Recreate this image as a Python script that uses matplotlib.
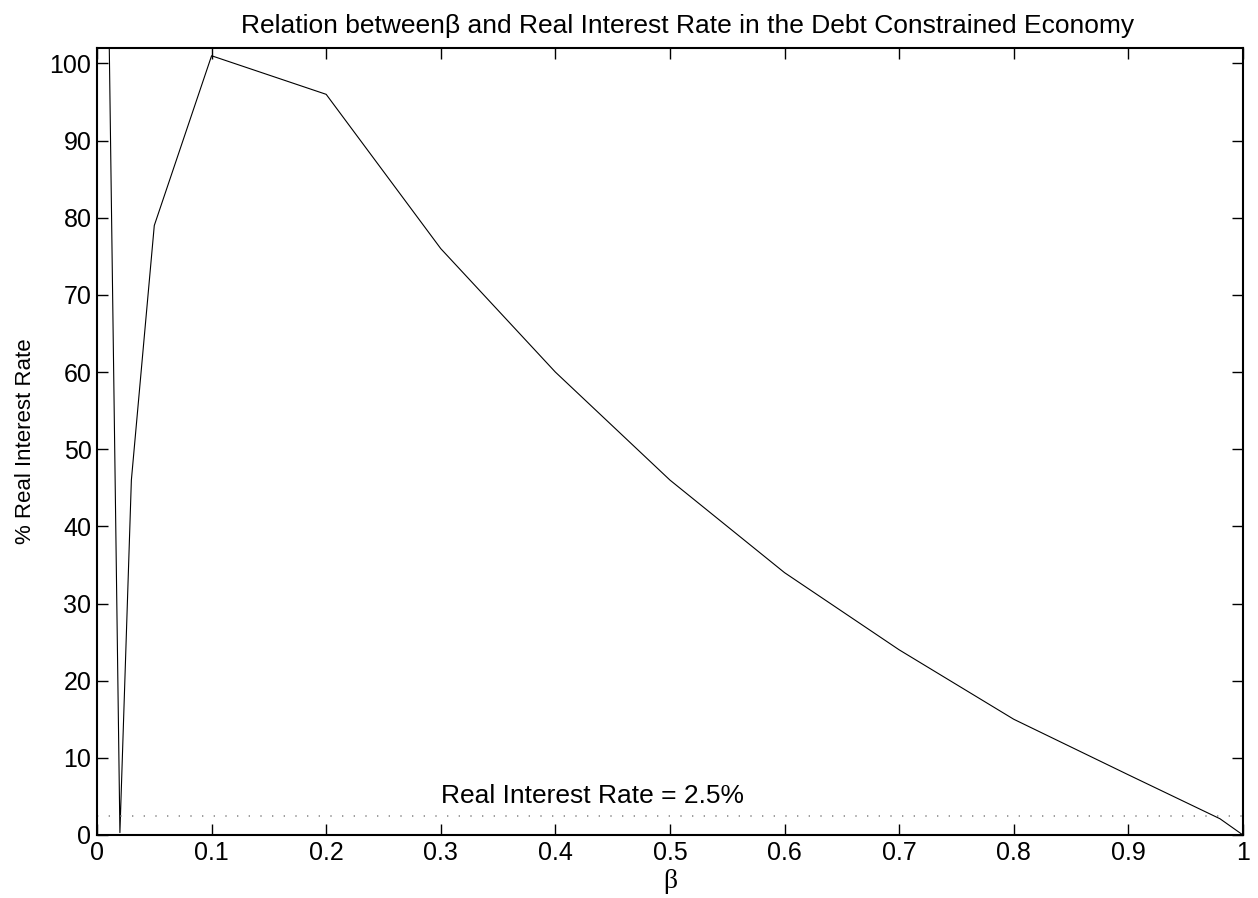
import matplotlib
matplotlib.use('Agg')
import matplotlib.pyplot as plt

# beta values and the real interest rate (%)
beta = [0.01, 0.02, 0.03, 0.05, 0.1, 0.2, 0.3, 0.4, 0.5, 0.6, 0.7, 0.8, 0.9, 0.98, 1.0]
rate = [110, 0.3, 46, 79, 101, 96, 76, 60, 46, 34, 24, 15, 7.8, 2.1, 0]
target_rate = 2.5
xticks = [0, 0.1, 0.2, 0.3, 0.4, 0.5, 0.6, 0.7, 0.8, 0.9, 1]
xticklabels = ['0', '0.1', '0.2', '0.3', '0.4', '0.5', '0.6', '0.7', '0.8', '0.9', '1']
yticks = [0, 10, 20, 30, 40, 50, 60, 70, 80, 90, 100]

plt.rcParams['font.family'] = ['Liberation Sans', 'DejaVu Sans']

fig = plt.figure(figsize=(12.58, 8.98), dpi=100)
ax = fig.add_axes([0.0771, 0.0702, 0.9109, 0.8763])

ax.plot(beta, rate, color='black', lw=0.8)
ax.plot([0, 1], [target_rate, target_rate], color='#8c8c8c', lw=1.2,
        linestyle=(0, (0.8, 6.2)))
ax.text(0.3, 5, 'Real Interest Rate = 2.5%', fontsize=19, va='center', ha='left')

ax.set_xlim(0, 1)
ax.set_ylim(0, 102)
ax.set_xticks(xticks)
ax.set_xticklabels(xticklabels)
ax.set_yticks(yticks)
ax.tick_params(direction='in', length=8, width=1, top=True, right=True,
               labelsize=18, pad=4)
for s in ax.spines.values():
    s.set_linewidth(1.5)

ax.set_xlabel('β', fontsize=20, family=['Liberation Serif', 'DejaVu Serif'], labelpad=3)
ax.set_ylabel('% Real Interest Rate', fontsize=16, labelpad=10)
ax.set_title('Relation betweenβ and Real Interest Rate in the Debt Constrained Economy',
             fontsize=19, pad=11, x=0.515)

fig.savefig('out.png', dpi=100)
